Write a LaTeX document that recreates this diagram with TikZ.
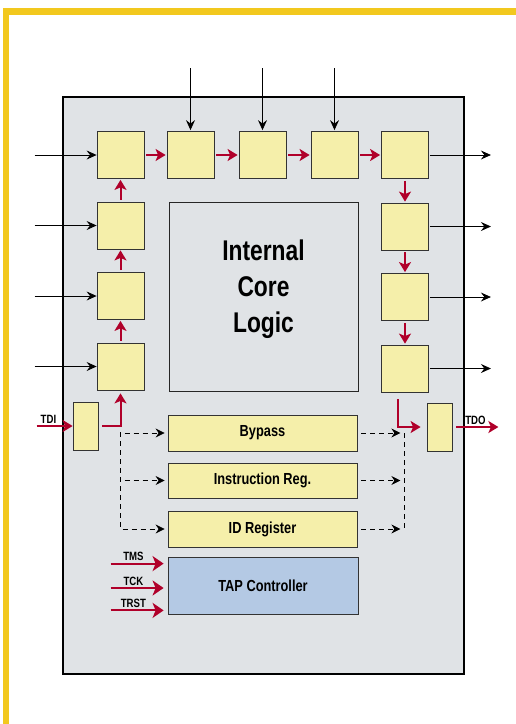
\documentclass[tikz,border=0pt]{standalone}
\usepackage{fontspec}
\setmainfont{Liberation Sans}[FakeStretch=0.8]
\usepackage{xcolor}
\usepackage{tikz}
\usetikzlibrary{arrows.meta}
\definecolor{framegold}{HTML}{F2C81E}
\definecolor{chipgray}{HTML}{E0E3E6}
\definecolor{cellyellow}{HTML}{F5EFAA}
\definecolor{tapblue}{HTML}{B4C9E4}
\definecolor{scanred}{HTML}{B0002A}
\definecolor{edgegray}{HTML}{333333}

\tikzset{
  cell/.style={draw=edgegray, line width=0.8pt, fill=cellyellow, inner sep=0pt,
    minimum width=47pt, minimum height=47pt},
  slim/.style={cell, minimum width=25pt, minimum height=48pt},
  reg/.style={cell, minimum width=189pt, minimum height=36pt,
    font=\fontsize{16}{19}\selectfont\bfseries},
  lbl/.style={text=black, font=\fontsize{12}{14}\selectfont\bfseries, inner sep=1.5pt},
  padarrow/.style={line width=0.8pt, -{Stealth[length=10pt,width=9pt,inset=3.5pt]}},
  scan/.style={scanred, line width=2pt, -{Stealth[length=10pt,width=12pt,inset=2.5pt]}},
  tapin/.style={scanred, line width=2pt, -{Stealth[length=11pt,width=15pt,inset=3pt]}},
  dashline/.style={line width=0.8pt, dash pattern=on 5pt off 4pt},
  dashflow/.style={dashline, -{Stealth[length=9pt,width=9pt,inset=3pt]}}
}

\begin{document}
\begin{tikzpicture}[x=1pt, y=-1pt]
\useasboundingbox (0,0) rectangle (516,724);
\fill[framegold] (3,8) rectangle (516,15);
\fill[framegold] (3,8) rectangle (9,724);

\node[draw, line width=1.5pt, fill=chipgray, minimum width=401pt, minimum height=577pt] (chip) at (263.5,385.5) {};
\node[draw=black!85, line width=1pt, fill=chipgray, minimum width=189pt, minimum height=189pt] (core) at (263.5,296.5) {};
\node[align=center, font=\fontsize{28.5}{36}\selectfont\bfseries] (coretext) at ([yshift=7pt]core.center) {Internal\\Core\\Logic};

% boundary scan cells
\node[cell] (t1) at (120.5,155) {};
\node[cell] (t2) at (190.5,155) {};
\node[cell] (t3) at (262.5,155) {};
\node[cell] (t4) at (334.5,155) {};
\node[cell] (t5) at (405,155) {};
\node[cell] (l2) at (120.5,225.5) {};
\node[cell] (l3) at (120.5,296) {};
\node[cell] (l4) at (120.5,366.5) {};
\node[cell] (r2) at (405,226.5) {};
\node[cell] (r3) at (405,297) {};
\node[cell] (r4) at (405,368.5) {};
\node[slim] (tdi) at (85.5,426) {};
\node[slim] (tdo) at (439.5,427) {};

\node[reg] (bypass) at (262.5,433) {Bypass};
\node[reg, minimum height=35pt] (ireg) at (262.5,480.5) {Instruction Reg.};
\node[reg] (idreg) at (262.5,529) {ID Register};
\node[reg, fill=tapblue, minimum width=190pt, minimum height=57pt] (tap) at (263,585.5) {TAP Controller};

% pins
\draw[padarrow, shorten >=1pt] ([yshift=63pt]t2.north) -- (t2.north);
\draw[padarrow, shorten >=1pt] ([yshift=63pt]t3.north) -- (t3.north);
\draw[padarrow, shorten >=1pt] ([yshift=63pt]t4.north) -- (t4.north);
\draw[padarrow] ([xshift=-62pt]t1.west) -- (t1.west);
\draw[padarrow] ([xshift=-62pt]l2.west) -- (l2.west);
\draw[padarrow] ([xshift=-62pt]l3.west) -- (l3.west);
\draw[padarrow] ([xshift=-62pt]l4.west) -- (l4.west);
\draw[padarrow, shorten <=1pt] (t5.east) -- ([xshift=62pt]t5.east);
\draw[padarrow, shorten <=1pt] (r2.east) -- ([xshift=62pt]r2.east);
\draw[padarrow, shorten <=1pt] (r3.east) -- ([xshift=62pt]r3.east);
\draw[padarrow, shorten <=1pt] (r4.east) -- ([xshift=62pt]r4.east);

% scan chain
\draw[scan, shorten <=2pt, shorten >=1pt] (l4) -- (l3);
\draw[scan, shorten <=2pt, shorten >=1pt] (l3) -- (l2);
\draw[scan, shorten <=2pt, shorten >=1pt] (l2) -- (t1);
\draw[scan, shorten <=2pt, shorten >=1pt] (t1) -- (t2);
\draw[scan, shorten <=2pt, shorten >=1pt] (t2) -- (t3);
\draw[scan, shorten <=2pt, shorten >=1pt] (t3) -- (t4);
\draw[scan, shorten <=2pt, shorten >=1pt] (t4) -- (t5);
\draw[scan, shorten <=2pt, shorten >=1pt] (t5) -- (r2);
\draw[scan, shorten <=2pt, shorten >=1pt] (r2) -- (r3);
\draw[scan, shorten <=2pt, shorten >=1pt] (r3) -- (r4);
\draw[scan] ([xshift=-36pt]tdi.west) -- (tdi.west) node[lbl, pos=0.33, above] {TDI};
\draw[scan, shorten <=4pt, shorten >=3pt] (tdi.east) -| (l4.south);
\draw[scan, shorten <=7pt, shorten >=6pt] ([xshift=-7pt]r4.south) |- (tdo.west);
\draw[scan, shorten <=4pt] (tdo.east) -- ([xshift=46pt]tdo.east) node[lbl, midway, above] {TDO};

% data registers
\coordinate (fork) at ([yshift=-6pt]tdi.east -| l4.south);
\coordinate (join) at ([xshift=47pt]bypass.east);
\draw[dashflow, shorten >=3pt] (fork) |- (idreg.west);
\draw[dashflow, shorten <=4pt, shorten >=3pt] (fork |- bypass.west) -- (bypass.west);
\draw[dashflow, shorten <=4pt, shorten >=3pt] (fork |- ireg.west) -- (ireg.west);
\draw[dashline] (join) -- (join |- idreg.east);
\draw[dashflow, shorten <=4pt, shorten >=4pt] (bypass.east) -- (join);
\draw[dashflow, shorten <=4pt, shorten >=4pt] (ireg.east) -- (join |- ireg.east);
\draw[dashflow, shorten <=4pt, shorten >=4pt] (idreg.east) -- (join |- idreg.east);

% TAP inputs
\draw[tapin, shorten >=4pt] ([xshift=-57pt,yshift=-7pt]tap.north west) -- ([yshift=-7pt]tap.north west) node[lbl, pos=0.4, above] {TMS};
\draw[tapin, shorten >=4pt] ([xshift=-57pt,yshift=-2.5pt]tap.west) -- ([yshift=-2.5pt]tap.west) node[lbl, pos=0.4, above] {TCK};
\draw[tapin, shorten >=4pt] ([xshift=-57pt,yshift=4pt]tap.south west) -- ([yshift=4pt]tap.south west) node[lbl, pos=0.4, above] {TRST};
\end{tikzpicture}
\end{document}
